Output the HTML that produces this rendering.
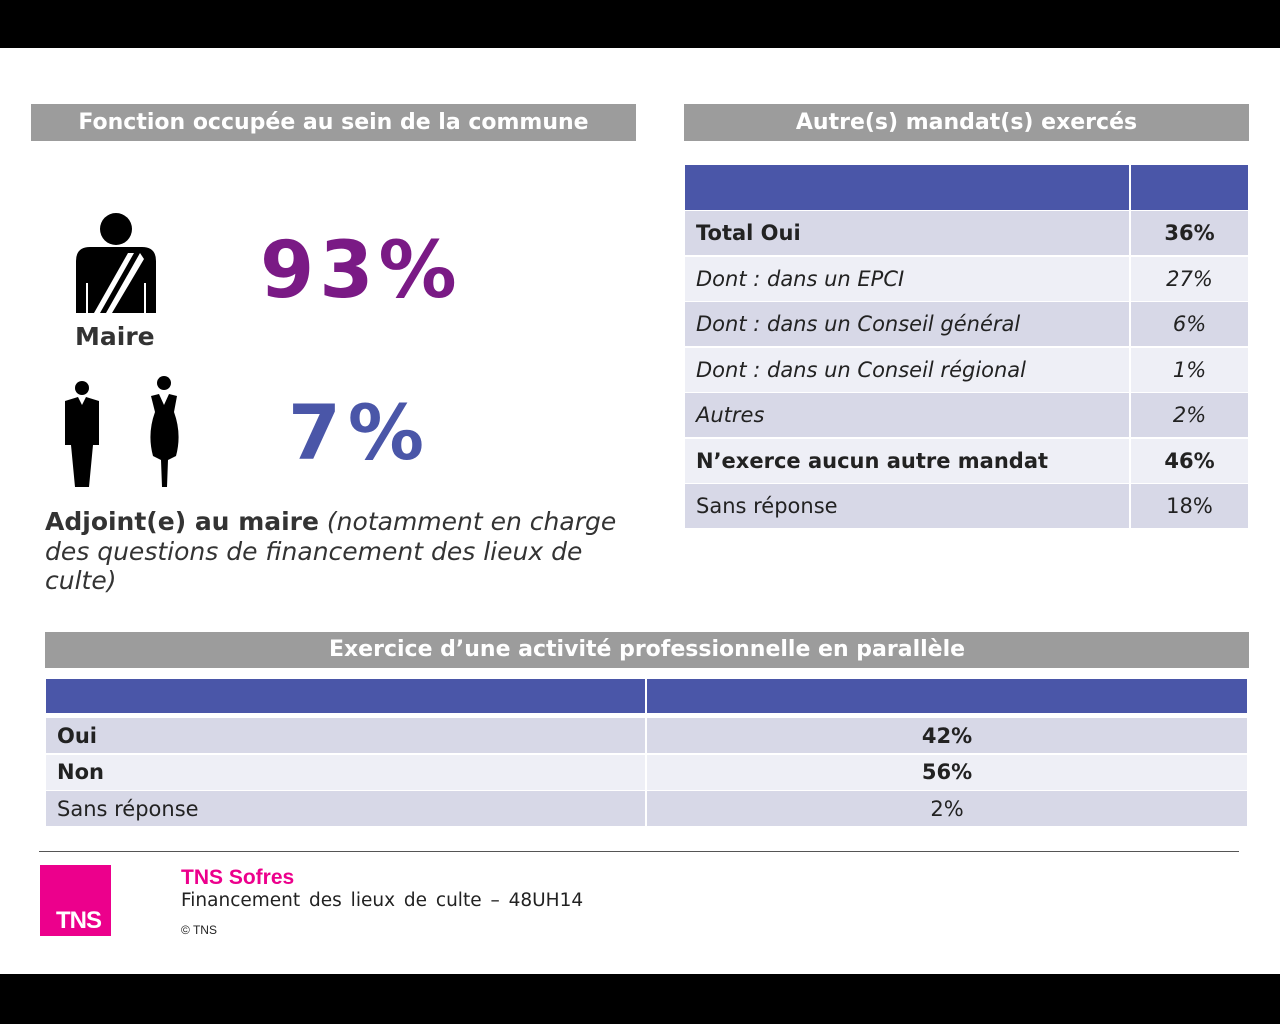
<!DOCTYPE html>
<html><head><meta charset="utf-8"><style>
*{margin:0;padding:0;box-sizing:border-box}
body{width:1280px;height:1024px;background:#fff;position:relative;overflow:hidden;font-family:"DejaVu Sans","Liberation Sans",sans-serif;color:#222}
.abs{position:absolute}
.hdr{position:absolute;background:#9c9c9c;color:#fff;font-weight:bold;font-size:22px;text-align:center;line-height:37px;letter-spacing:0px}
.cell{position:absolute;font-size:21px;display:flex;align-items:center}
.dk{background:#d7d8e7}.lt{background:#eeeff6}.bl{background:#4a56a8}
.b{font-weight:bold}.i{font-style:italic}
</style></head><body>
<div class="abs" style="left:0;top:0;width:1280px;height:48px;background:#000"></div>
<div class="abs" style="left:0;top:974px;width:1280px;height:50px;background:#000"></div>

<div class="hdr" style="left:31px;top:104px;width:605px;height:37px">Fonction occupée au sein de la commune</div>
<div class="hdr" style="left:684px;top:104px;width:565px;height:37px">Autre(s) mandat(s) exercés</div>

<svg class="abs" style="left:76px;top:213px" width="80" height="100" viewBox="0 0 80 100">
<circle cx="40" cy="16" r="16" fill="#000"/>
<path d="M0 100 V48 Q0 34 14 34 H66 Q80 34 80 48 V100 Z" fill="#000"/>
<path d="M18 100 L52 40 L58 40 L24 100Z M30 100 L64 40 L68 46 L36 100Z" fill="#fff"/>
<rect x="10" y="70" width="2" height="30" fill="#fff"/><rect x="68" y="70" width="2" height="30" fill="#fff"/>
</svg>
<div class="abs b" style="left:75px;top:322px;font-size:25px;color:#333">Maire</div>
<div class="abs b" style="left:260px;top:226px;font-size:78px;color:#7a1a85;letter-spacing:5px">93%</div>

<svg class="abs" style="left:64px;top:380px" width="36" height="107" viewBox="0 0 36 107">
<circle cx="18" cy="8" r="7" fill="#000"/>
<path d="M1 21 L14 17 L18 25 L22 17 L35 21 V65 H29 L25 107 H11 L7 65 H1Z" fill="#000"/>
</svg>
<svg class="abs" style="left:148px;top:374px" width="32" height="113" viewBox="0 0 32 113">
<circle cx="16" cy="9" r="7" fill="#000"/>
<path d="M3 22 L11 20 L16 31 L21 20 L29 22 L26 38 Q34 60 28 82 L20 86 L19 113 H14 L13 86 L5 82 Q-1 60 7 38Z" fill="#000"/>
</svg>
<div class="abs b" style="left:288px;top:388px;font-size:76px;color:#4a56a8;letter-spacing:7px">7%</div>
<div class="abs" style="left:45px;top:507px;width:590px;font-size:25px;line-height:29.5px;color:#333"><b>Adjoint(e) au maire</b> <i>(notamment en charge des questions de financement des lieux de culte)</i></div>

<div class="cell bl" style="left:685px;top:165px;width:444px;height:45px"></div>
<div class="cell bl" style="left:1131px;top:165px;width:117px;height:45px"></div>
<div id="mt"></div>

<div class="hdr" style="left:45px;top:632px;width:1204px;height:36px;line-height:36px">Exercice d’une activité professionnelle en parallèle</div>
<div class="cell bl" style="left:46px;top:679px;width:599px;height:34px"></div>
<div class="cell bl" style="left:647px;top:679px;width:600px;height:34px"></div>
<div id="at"></div>

<div class="abs" style="left:39px;top:851px;width:1200px;height:1px;background:#555"></div>
<div class="abs" style="left:40px;top:865px;width:71px;height:71px;background:#ec008c;color:#fff;font-family:'Liberation Sans',sans-serif;font-weight:bold;font-size:24px;padding:42px 0 0 16px;letter-spacing:-1px">TNS</div>
<div class="abs b" style="left:181px;top:866px;font-family:'Liberation Sans',sans-serif;font-size:21px;color:#ec008c">TNS Sofres</div>
<div class="abs" style="left:181px;top:890px;font-size:18.5px;color:#222;word-spacing:3px">Financement des lieux de culte – 48UH14</div>
<div class="abs" style="left:181px;top:923px;font-family:'Liberation Sans',sans-serif;font-size:12px;color:#222">© TNS</div>

<script>
const mandatLabels=["Total Oui","Dont : dans un EPCI","Dont : dans un Conseil général","Dont : dans un Conseil régional","Autres","N’exerce aucun autre mandat","Sans réponse"];
const mandatValues=[36,27,6,1,2,46,18];
const mandatStyles=["b","i","i","i","i","b",""];
const activiteLabels=["Oui","Non","Sans réponse"];
const activiteValues=[42,56,2];
const activiteStyles=["b","b",""];
const mt=document.getElementById('mt');
mandatLabels.forEach((l,k)=>{
  const top=211+k*45.5, cls=(k%2?'lt':'dk')+' '+mandatStyles[k];
  const a=document.createElement('div');a.className='cell '+cls;
  a.style.cssText=`left:685px;top:${top}px;width:444px;height:44px;padding-left:11px`;a.textContent=l;
  
  
  const b=document.createElement('div');b.className='cell '+cls;
  b.style.cssText=`left:1131px;top:${top}px;width:117px;height:44px;justify-content:center`;b.textContent=mandatValues[k]+'%';
  
  
  mt.appendChild(a);mt.appendChild(b);
});
const at=document.getElementById('at');
activiteLabels.forEach((l,k)=>{
  const top=718+k*36.7, cls=(k%2?'lt':'dk')+' '+activiteStyles[k];
  const a=document.createElement('div');a.className='cell '+cls;
  a.style.cssText=`left:46px;top:${top}px;width:599px;height:35px;padding-left:11px`;a.textContent=l;
  
  
  const b=document.createElement('div');b.className='cell '+cls;
  b.style.cssText=`left:647px;top:${top}px;width:600px;height:35px;justify-content:center`;b.textContent=activiteValues[k]+'%';
  
  
  at.appendChild(a);at.appendChild(b);
});
</script>
</body></html>
